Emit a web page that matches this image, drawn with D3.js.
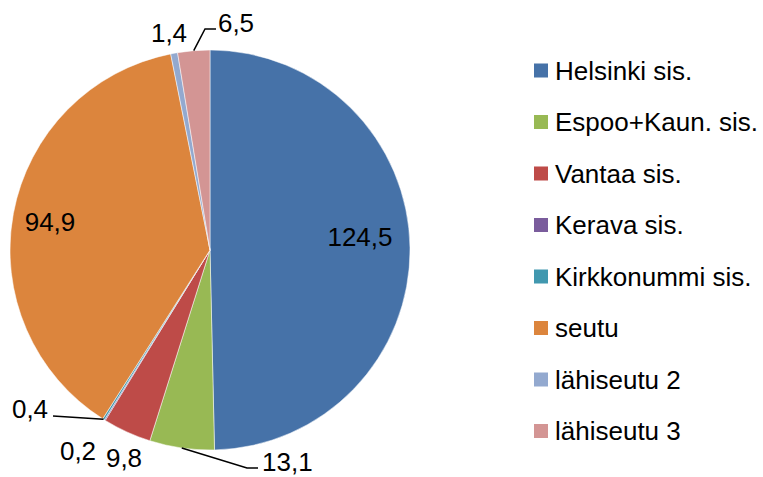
<!DOCTYPE html>
<html><head><meta charset="utf-8">
<script src="https://cdn.jsdelivr.net/npm/d3@7"></script>
<style>body{margin:0;background:#fff}svg{display:block}text{font-family:"Liberation Sans",Arial,sans-serif;fill:#000}</style>
</head><body>
<script>
const categories = ["Helsinki sis.","Espoo+Kaun. sis.","Vantaa sis.","Kerava sis.","Kirkkonummi sis.","seutu","lähiseutu 2","lähiseutu 3"];
const values = [124.5,13.1,9.8,0.2,0.4,94.9,1.4,6.5];
const labels = ["124,5","13,1","9,8","0,2","0,4","94,9","1,4","6,5"];
const colors = ["#4672A8","#98B954","#BE4B48","#7A5C9C","#4198AF","#DC853D","#93A9CF","#D39594"];

// label layout (placement only)
const labelLayout = [
  {x:360,y:237,anchor:"middle"},
  {x:262,y:462,anchor:"start",leader:[[247,468],[258,468]]},
  {x:124,y:458,anchor:"middle"},
  {x:78,y:451,anchor:"middle"},
  {x:30,y:409,anchor:"middle",leader:[[53,416]]},
  {x:50,y:222,anchor:"middle"},
  {x:169,y:33,anchor:"middle"},
  {x:236,y:23,anchor:"middle",leader:[[205,29],[216,29]]}
];

const W=763,H=477, cx=210, cy=250, R=200;
const svg=d3.select("body").append("svg").attr("width",W).attr("height",H);
const pie=d3.pie().sort(null).value(d=>d)(values);
const arc=d3.arc().innerRadius(0).outerRadius(R);
const g=svg.append("g").attr("transform",`translate(${cx},${cy})`);
g.selectAll("path").data(pie).join("path")
  .attr("d",arc).attr("fill",(d,i)=>colors[i]).attr("stroke","#fff").attr("stroke-width",0.5);

// leader lines
pie.forEach((d,i)=>{
  const L=labelLayout[i];
  if(!L.leader) return;
  const a=(d.startAngle+d.endAngle)/2;
  const p0=[cx+R*Math.sin(a), cy-R*Math.cos(a)];
  const pts=[p0].concat(L.leader);
  svg.append("path").attr("d",d3.line()(pts)).attr("fill","none").attr("stroke","#000").attr("stroke-width",1.5);
});
svg.selectAll("text.lbl").data(labels).join("text").attr("class","lbl")
  .attr("x",(d,i)=>labelLayout[i].x).attr("y",(d,i)=>labelLayout[i].y)
  .attr("text-anchor",(d,i)=>labelLayout[i].anchor).attr("dominant-baseline","central")
  .attr("font-size",26).text(d=>d);

// legend
const ly=d3.scalePoint().domain(categories).range([70.5,431]);
const lg=svg.append("g");
lg.selectAll("rect").data(categories).join("rect")
  .attr("x",534).attr("y",d=>ly(d)-7).attr("width",14).attr("height",14).attr("fill",(d,i)=>colors[i]);
lg.selectAll("text").data(categories).join("text")
  .attr("x",555).attr("y",d=>ly(d)).attr("dominant-baseline","central").attr("font-size",26).text(d=>d);
</script>
</body></html>
